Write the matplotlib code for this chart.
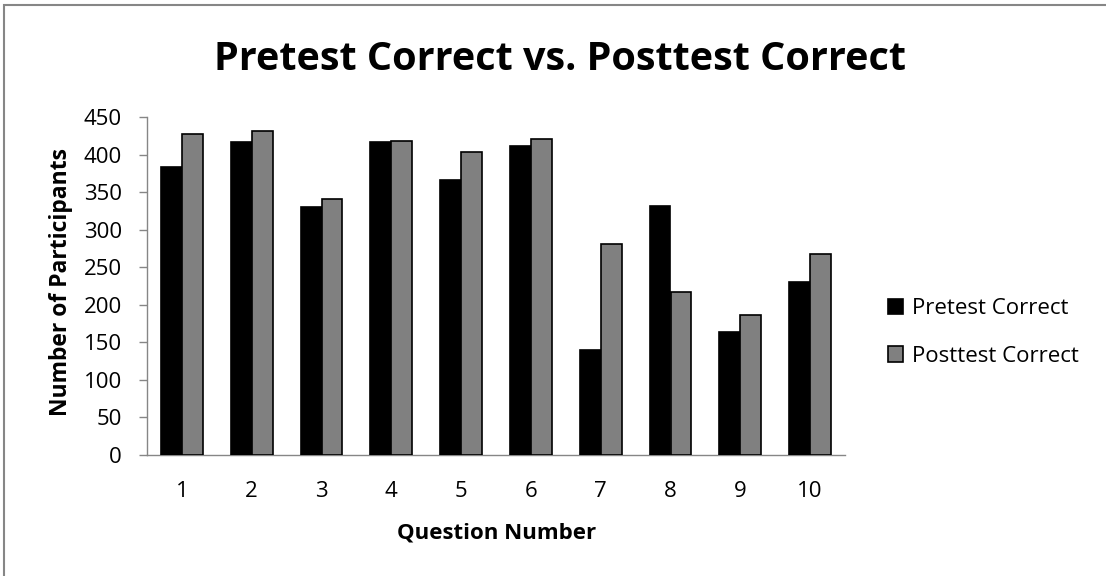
import numpy as np
import matplotlib
matplotlib.use('Agg')
from matplotlib import pyplot as plt
from matplotlib.patches import Rectangle

plt.rcParams['font.family'] = ['Open Sans', 'DejaVu Sans']

questions = ['1', '2', '3', '4', '5', '6', '7', '8', '9', '10']
pretest = [383, 417, 330, 417, 366, 412, 140, 331, 164, 230]
posttest = [427, 431, 341, 418, 404, 421, 281, 217, 187, 268]

W, H = 1106, 576
fig = plt.figure(figsize=(W / 100, H / 100), dpi=100)
# plot area: x 147..845 px, y 117..455 px
ax = fig.add_axes([147 / W, 1 - 455 / H, 698 / W, 338 / H])

x = np.arange(len(questions))
w = 0.30
ax.bar(x - w/2, pretest, w, color='black', edgecolor='black', linewidth=1.2,
       label='Pretest Correct', zorder=3)
ax.bar(x + w/2, posttest, w, color='#808080', edgecolor='black', linewidth=1.2,
       label='Posttest Correct', zorder=3)

ax.set_xlim(-0.5, len(questions) - 0.5)
ax.set_ylim(0, 450)
ax.set_yticks(np.arange(0, 451, 50))
ax.set_xticks(x)
ax.set_xticklabels(questions)
ax.tick_params(axis='x', length=0, pad=19, labelsize=16)
ax.tick_params(axis='y', length=6, color='#868686', width=1, pad=12, labelsize=16)

for s in ['top', 'right']:
    ax.spines[s].set_visible(False)
for s in ['left', 'bottom']:
    ax.spines[s].set_color('#868686')
    ax.spines[s].set_linewidth(1)

fig.text(497 / W, 1 - 538 / H, 'Question Number', fontsize=16, fontweight='bold',
         ha='center', va='baseline')
fig.text(61 / W, 1 - 282 / H, 'Number of Participants', fontsize=16.5,
         fontweight='bold', rotation=90, ha='center', va='center')

fig.text(560 / W, 1 - 70 / H, 'Pretest Correct vs. Posttest Correct', fontsize=28.5,
         fontweight='bold', ha='center', va='baseline')

ax.legend(loc='center left', bbox_to_anchor=(888 / W, 1 - 332.5 / H),
          bbox_transform=fig.transFigure, frameon=False,
          fontsize=16, handlelength=0.68, handleheight=0.68, handletextpad=0.4,
          labelspacing=1.2, borderpad=0, borderaxespad=0)

# outer chart border
fig.patches.append(Rectangle((0.004, -0.1), 1.2, 1.091, transform=fig.transFigure,
                             fill=False, edgecolor='#868686', linewidth=1.5))

fig.savefig('out.png', dpi=100)
